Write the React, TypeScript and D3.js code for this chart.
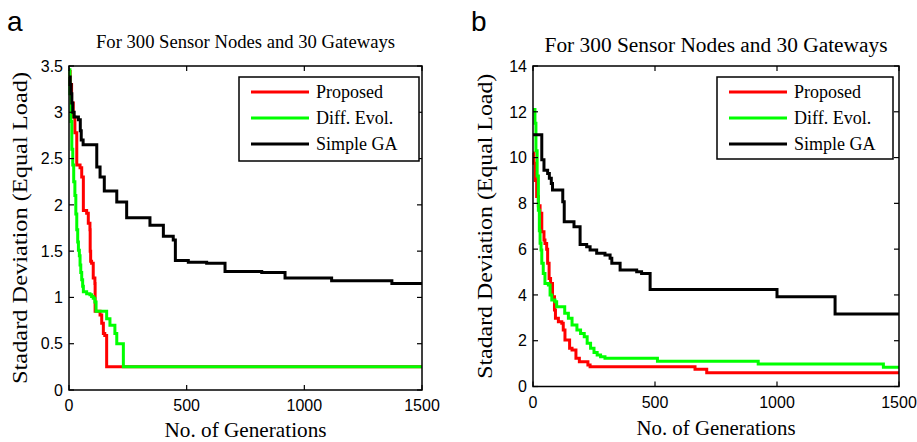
import React from "react";
import * as d3 from "d3";

// best std. deviation per generation, [generation, value]
const proposedA: [number, number][] = [
  [0, 3.44], [5, 3.3], [11, 3.1], [18, 2.95], [25, 2.78], [33, 2.43], [47, 2.4],
  [54, 2.3], [61, 1.94], [75, 1.91], [82, 1.8], [89, 1.73], [90, 1.5], [92, 1.39],
  [96, 1.37], [103, 1.21], [110, 1.15], [111, 0.85], [132, 0.81], [139, 0.72],
  [146, 0.61], [152, 0.59], [160, 0.25], [1500, 0.25],
];
const diffEvolA: [number, number][] = [
  [0, 3.46], [4, 3.2], [8, 2.9], [12, 2.6], [16, 2.43], [20, 2.25], [25, 2.1],
  [29, 1.9], [33, 1.73], [37, 1.6], [40, 1.51], [44, 1.45], [47, 1.35], [50, 1.27],
  [54, 1.19], [58, 1.12], [61, 1.06], [75, 1.04], [89, 1.03], [96, 1.01],
  [103, 0.99], [110, 0.95], [115, 0.85], [160, 0.77], [174, 0.7], [195, 0.61],
  [203, 0.5], [231, 0.25], [1500, 0.25],
];
const simpleGaA: [number, number][] = [
  [0, 3.38], [5, 3.3], [9, 3.2], [12, 3.1], [16, 3.0], [22, 2.95], [40, 2.92],
  [48, 2.8], [52, 2.7], [60, 2.65], [118, 2.41], [132, 2.3], [150, 2.15],
  [203, 2.03], [245, 1.86], [344, 1.78], [401, 1.66], [443, 1.62], [452, 1.4],
  [507, 1.38], [585, 1.37], [663, 1.28], [819, 1.27], [918, 1.21], [1116, 1.18],
  [1372, 1.15], [1500, 1.15],
];

const proposedB: [number, number][] = [
  [0, 10.2], [4, 9.75], [10, 9.0], [15, 8.3], [22, 7.9], [29, 7.57], [36, 6.76],
  [45, 6.4], [49, 6.25], [56, 6.0], [60, 5.38], [66, 4.72], [72, 4.5], [80, 3.92],
  [88, 3.34], [92, 2.98], [104, 2.83], [118, 2.76], [124, 2.47], [131, 2.03],
  [150, 1.67], [160, 1.59], [176, 1.23], [190, 1.08], [225, 0.94], [234, 0.86],
  [664, 0.75], [712, 0.6], [1500, 0.6],
];
const diffEvolB: [number, number][] = [
  [0, 12.1], [8, 11.5], [12, 10.3], [17, 9.2], [22, 7.7], [26, 6.8], [29, 6.26],
  [33, 5.96], [36, 5.38], [42, 4.94], [49, 4.5], [63, 4.43], [70, 4.0], [77, 3.78],
  [90, 3.7], [97, 3.48], [130, 3.2], [145, 2.98], [160, 2.69], [180, 2.47],
  [195, 2.32], [210, 2.17], [222, 1.89], [236, 1.67], [250, 1.48], [263, 1.38],
  [277, 1.3], [295, 1.23], [510, 1.1], [923, 0.98], [1436, 0.84], [1500, 0.84],
];
const simpleGaB: [number, number][] = [
  [0, 11.0], [36, 9.9], [45, 9.45], [60, 9.3], [67, 9.1], [75, 8.87], [80, 8.58],
  [122, 8.07], [128, 7.2], [168, 6.98], [193, 6.2], [220, 6.1], [234, 5.96],
  [261, 5.82], [295, 5.74], [316, 5.6], [323, 5.38], [357, 5.09], [425, 5.01],
  [445, 4.94], [480, 4.24], [1000, 3.92], [1238, 3.17], [1500, 3.17],
];

const seriesNames = ["Proposed", "Diff. Evol.", "Simple GA"];
const seriesColors = ["#ff0000", "#00ff00", "#000000"];
const xTicks = [0, 500, 1000, 1500];
const yTicksA = [0, 0.5, 1, 1.5, 2, 2.5, 3, 3.5];
const yTicksB = [0, 2, 4, 6, 8, 10, 12, 14];
const title = "For 300 Sensor Nodes and 30 Gateways";
const xLabel = "No. of Generations";
const yLabel = "Stadard Deviation (Equal Load)";

const serif = "'Liberation Serif', 'Times New Roman', serif";
const sans = "'Liberation Sans', Arial, sans-serif";

interface PanelProps {
  letter: string;
  series: [number, number][][];
  yTicks: number[];
  left: number;
  right: number;
  top: number;
  bottom: number;
  titleSize: number;
  titleY: number;
  titleLen: number;
  xLabelY: number;
  xLabelLen: number;
  yLabelX: number;
  yLabelLen: number;
  legend: { x: number; y: number; w: number; h: number };
}

const Panel: React.FC<PanelProps> = (p) => {
  const x = d3.scaleLinear().domain([0, 1500]).range([p.left, p.right]);
  const y = d3
    .scaleLinear()
    .domain([0, p.yTicks[p.yTicks.length - 1]])
    .range([p.bottom, p.top]);
  const line = d3
    .line<[number, number]>()
    .x((d) => x(d[0]))
    .y((d) => y(d[1]))
    .curve(d3.curveStepAfter);
  const cx = (p.left + p.right) / 2;
  const cy = (p.top + p.bottom) / 2;
  const tk = 5;

  return (
    <g>
      <text x={p.left - 62} y={31} fontFamily={sans} fontSize={28}>
        {p.letter}
      </text>
      <text
        x={cx}
        y={p.titleY}
        textAnchor="middle"
        fontFamily={serif}
        fontSize={p.titleSize}
        textLength={p.titleLen}
        lengthAdjust="spacingAndGlyphs"
      >
        {title}
      </text>

      {/* data lines, legend order so green sits on red */}
      {p.series.map((s, i) => (
        <path
          key={i}
          d={line(s) ?? ""}
          fill="none"
          stroke={seriesColors[i]}
          strokeWidth={3}
          strokeLinejoin="miter"
        />
      ))}

      {/* axes box with inward ticks */}
      <rect
        x={p.left}
        y={p.top}
        width={p.right - p.left}
        height={p.bottom - p.top}
        fill="none"
        stroke="#000"
        strokeWidth={1.5}
      />
      {xTicks.map((t) => (
        <g key={"x" + t}>
          <line x1={x(t)} x2={x(t)} y1={p.bottom} y2={p.bottom - tk} stroke="#000" strokeWidth={1.2} />
          <line x1={x(t)} x2={x(t)} y1={p.top} y2={p.top + tk} stroke="#000" strokeWidth={1.2} />
          <text x={x(t)} y={p.bottom + 21} textAnchor="middle" fontFamily={sans} fontSize={16}>
            {t}
          </text>
        </g>
      ))}
      {p.yTicks.map((t) => (
        <g key={"y" + t}>
          <line x1={p.left} x2={p.left + tk} y1={y(t)} y2={y(t)} stroke="#000" strokeWidth={1.2} />
          <line x1={p.right} x2={p.right - tk} y1={y(t)} y2={y(t)} stroke="#000" strokeWidth={1.2} />
          <text x={p.left - 6} y={y(t)} dy="0.36em" textAnchor="end" fontFamily={sans} fontSize={16}>
            {t}
          </text>
        </g>
      ))}

      <text
        x={cx}
        y={p.xLabelY}
        textAnchor="middle"
        fontFamily={serif}
        fontSize={21}
        textLength={p.xLabelLen}
        lengthAdjust="spacingAndGlyphs"
      >
        {xLabel}
      </text>
      <text
        transform={`translate(${p.yLabelX},${cy}) rotate(-90)`}
        textAnchor="middle"
        fontFamily={serif}
        fontSize={21}
        textLength={p.yLabelLen}
        lengthAdjust="spacingAndGlyphs"
      >
        {yLabel}
      </text>

      {/* legend */}
      <rect
        x={p.legend.x}
        y={p.legend.y}
        width={p.legend.w}
        height={p.legend.h}
        fill="#fff"
        stroke="#000"
        strokeWidth={1.5}
      />
      {seriesNames.map((n, i) => {
        const ly = p.legend.y + 15 + i * 26;
        return (
          <g key={n}>
            <line
              x1={p.legend.x + 12}
              x2={p.legend.x + 70}
              y1={ly}
              y2={ly}
              stroke={seriesColors[i]}
              strokeWidth={3}
            />
            <text x={p.legend.x + 77} y={ly} dy="0.33em" fontFamily={serif} fontSize={18}>
              {n}
            </text>
          </g>
        );
      })}
    </g>
  );
};

export default function App() {
  return (
    <svg
      width={917}
      height={442}
      style={{ position: "absolute", left: 0, top: 0, background: "#fff" }}
    >
      <Panel
        letter="a"
        series={[proposedA, diffEvolA, simpleGaA]}
        yTicks={yTicksA}
        left={69}
        right={422}
        top={66}
        bottom={390}
        titleSize={18}
        titleY={48}
        titleLen={299}
        xLabelY={437}
        xLabelLen={162}
        yLabelX={27}
        yLabelLen={312}
        legend={{ x: 239, y: 77, w: 180, h: 84 }}
      />
      <Panel
        letter="b"
        series={[proposedB, diffEvolB, simpleGaB]}
        yTicks={yTicksB}
        left={533}
        right={899}
        top={66}
        bottom={386.5}
        titleSize={20}
        titleY={52}
        titleLen={343}
        xLabelY={435}
        xLabelLen={159}
        yLabelX={492}
        yLabelLen={305}
        legend={{ x: 717, y: 77, w: 176, h: 82 }}
      />
    </svg>
  );
}
